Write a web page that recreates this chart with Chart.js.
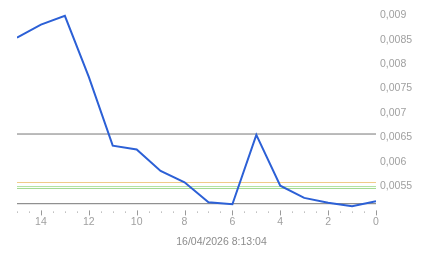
<!DOCTYPE html>
<html><head><meta charset="utf-8">
<script src="https://cdn.jsdelivr.net/npm/chart.js@4"></script>
<style>html,body{margin:0;padding:0;background:#fff}canvas{display:block}</style>
</head><body>
<canvas id="c" width="443" height="258"></canvas>
<script>
const ages = [15,14,13,12,11,10,9,8,7,6,5,4,3,2,1,0];
const values = [0.00854,0.00881,0.00899,0.00774,0.00633,0.00625,0.00581,0.00558,0.00517,0.00513,0.00655,0.00551,0.00526,0.00516,0.00509,0.00519];
const upperLine = 0.006568;
const lowerLine = 0.005141;
const orangeLine = 0.005575;
const greenLine1 = 0.005493;
const greenLine2 = 0.005453;
const yTickValues = [0.0055,0.006,0.0065,0.007,0.0075,0.008,0.0085,0.009];
const xLabelValues = [14,12,10,8,6,4,2,0];
const titleText = '16/04/2026 8:13:04';

function hline(v, color){
  return {data:[{x:0,y:v},{x:15,y:v}], borderColor:color, borderWidth:1, pointRadius:0, fill:false, order:2};
}
const tickPlugin = {
  id:'xticks',
  afterDraw(chart){
    const s = chart.scales.x, ctx = chart.ctx, b = chart.chartArea.bottom;
    ctx.save();
    for(let v=0; v<=15.001; v+=0.5){
      const px = Math.round(s.getPixelForValue(v))+0.5;
      const major = xLabelValues.includes(v);
      ctx.strokeStyle = major ? '#999' : '#bbb';
      ctx.lineWidth = 1;
      ctx.beginPath();
      ctx.moveTo(px, b + (major?1:2));
      ctx.lineTo(px, b + (major?6:3.5));
      ctx.stroke();
    }
    ctx.restore();
  }
};
new Chart(document.getElementById('c'), {
  type:'line',
  data:{datasets:[
    {data:ages.map((a,i)=>({x:a,y:values[i]})), borderColor:'#2c60d6', borderWidth:2, pointRadius:0, fill:false, tension:0, order:1},
    hline(upperLine,'#777777'),
    hline(lowerLine,'#777777'),
    hline(orangeLine,'#f0cc88'),
    hline(greenLine1,'#b4e2a4'),
    hline(greenLine2,'#a0da8e')
  ]},
  plugins:[tickPlugin],
  options:{
    responsive:false, animation:false, devicePixelRatio:1,
    layout:{padding:{left:0,top:9,right:0,bottom:0}},
    plugins:{legend:{display:false}, tooltip:{enabled:false},
      title:{display:true, position:'bottom', text:titleText, color:'#8c8c8c',
        font:{family:'Liberation Sans, Arial', size:10.5, weight:'normal'}, padding:{top:2,bottom:10}}},
    scales:{
      x:{type:'linear', reverse:true, min:0, max:15, border:{display:false},
        grid:{display:false, drawTicks:false},
        afterBuildTicks(s){ s.ticks = xLabelValues.map(v=>({value:v})); },
        afterFit(s){ s.height = 24; },
        ticks:{autoSkip:false, maxRotation:0, padding:6, color:'#a0a0a0',
          font:{family:'Liberation Sans, Arial', size:10.5}, callback:v=>String(v)}},
      y:{type:'linear', position:'right', min:0.005024, max:0.009102, border:{display:false},
        grid:{display:false, drawTicks:false},
        afterBuildTicks(s){ s.ticks = yTickValues.map(v=>({value:v})); },
        afterFit(s){ s.width = 67; },
        ticks:{padding:4, color:'#a0a0a0', font:{family:'Liberation Sans, Arial', size:10.5},
          callback:v=>String(parseFloat(v.toFixed(4))).replace('.',',')}},
      spacer:{type:'linear', position:'left', display:true, border:{display:false},
        grid:{display:false, drawTicks:false}, ticks:{display:false},
        afterFit(s){ s.width = 17; }}
    }
  }
});
</script>
</body></html>
